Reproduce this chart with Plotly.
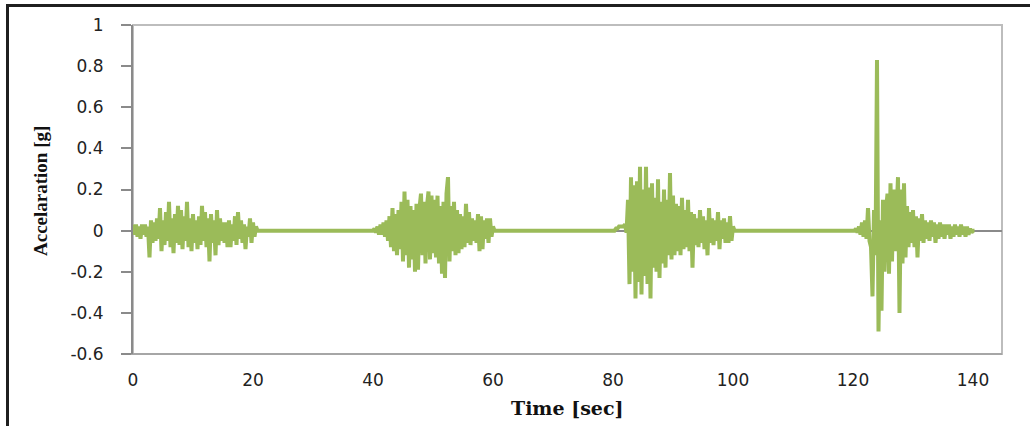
import numpy as np
import plotly.graph_objects as go

# ---------------- data ----------------
DT = 0.25  # sampling step [s]

burst1_start = 0.0
burst1_acc = [
    0.03, -0.02, 0.03, -0.03, 0.02, -0.04, 0.03, -0.02,
    0.03, -0.03, 0.02, -0.13, 0.05, -0.06, 0.04, -0.05,
    0.06, -0.04, 0.11, -0.10, 0.05, -0.07, 0.09, -0.05,
    0.14, -0.08, 0.06, -0.11, 0.08, -0.06, 0.12, -0.07,
    0.10, -0.09, 0.07, -0.05, 0.14, -0.08, 0.06, -0.10,
    0.08, -0.06, 0.05, -0.09, 0.07, -0.07, 0.12, -0.05,
    0.09, -0.08, 0.06, -0.15, 0.08, -0.06, 0.05, -0.12,
    0.10, -0.07, 0.06, -0.05, 0.04, -0.06, 0.04, -0.08,
    0.05, -0.08, 0.03, -0.05, 0.07, -0.07, 0.09, -0.04,
    0.05, -0.06, 0.03, -0.09, 0.02, -0.03, 0.06, -0.06,
    0.04, -0.03, 0.02, 0.00,
]

burst2_start = 40.0
burst2_acc = [
    0.00, 0.01, -0.01, 0.02, -0.02, 0.03, -0.02, 0.04,
    -0.03, 0.05, -0.05, 0.07, -0.08, 0.11, -0.10, 0.08,
    -0.12, 0.10, -0.09, 0.14, -0.15, 0.19, -0.12, 0.15,
    -0.18, 0.12, -0.14, 0.10, -0.20, 0.13, -0.19, 0.11,
    0.18, -0.12, 0.14, -0.16, 0.12, 0.19, -0.14, 0.17,
    -0.11, 0.15, -0.13, 0.17, -0.16, 0.12, -0.21, 0.14,
    -0.23, 0.18, 0.26, -0.15, 0.12, -0.10, 0.14, -0.12,
    0.10, -0.11, 0.08, -0.09, 0.07, -0.08, 0.13, -0.06,
    0.09, -0.07, 0.06, -0.05, 0.05, -0.06, 0.08, -0.10,
    0.07, -0.09, 0.05, -0.04, 0.06, -0.06, 0.06, -0.03,
    0.02, 0.00,
]

burst3_start = 80.0
burst3_acc = [
    0.00, 0.00, 0.01, 0.01, 0.02, 0.02, 0.02, 0.02,
    0.03, -0.01, 0.15, -0.26, 0.26, -0.20, 0.22, -0.33,
    0.24, -0.25, 0.31, -0.31, 0.20, -0.22, 0.31, -0.26,
    0.21, -0.33, 0.23, -0.18, 0.16, -0.20, 0.25, -0.23,
    0.14, -0.16, 0.20, -0.18, 0.15, -0.12, 0.28, -0.14,
    0.17, -0.12, 0.13, -0.10, 0.12, -0.12, 0.16, -0.09,
    0.10, -0.08, 0.15, -0.10, 0.09, -0.18, 0.08, -0.07,
    0.06, -0.08, 0.10, -0.06, 0.07, -0.09, 0.05, -0.12,
    0.11, -0.06, 0.06, -0.07, 0.05, -0.05, 0.09, -0.09,
    0.05, -0.04, 0.06, -0.06, 0.04, -0.06, 0.07, -0.05,
    0.02, 0.00,
]

burst4_start = 120.0
burst4_acc = [
    0.00, 0.00, 0.01, -0.01, 0.02, -0.02, 0.04, -0.03,
    0.05, -0.04, 0.11, -0.05, -0.08, -0.32, 0.10, -0.12,
    0.83, -0.49, 0.05, -0.39, 0.15, -0.20, 0.10, 0.18,
    -0.21, 0.23, -0.15, 0.20, -0.10, 0.15, 0.26, -0.40,
    0.20, -0.16, 0.23, -0.13, 0.12, -0.08, 0.09, -0.06,
    0.10, -0.08, 0.07, -0.13, 0.06, -0.05, 0.08, -0.06,
    0.05, -0.04, 0.04, -0.05, 0.05, -0.03, 0.04, -0.06,
    0.03, -0.04, 0.04, -0.03, 0.03, -0.04, 0.03, -0.02,
    0.03, -0.04, 0.02, -0.03, 0.03, -0.02, 0.02, -0.03,
    0.03, -0.02, 0.02, -0.03, 0.02, -0.02, 0.01, -0.01,
    0.00, 0.00,
]

y_tick_vals = [1, 0.8, 0.6, 0.4, 0.2, 0, -0.2, -0.4, -0.6]
y_tick_text = ["1", "0.8", "0.6", "0.4", "0.2", "0", "-0.2", "-0.4", "-0.6"]
x_tick_vals = [0, 20, 40, 60, 80, 100, 120, 140]
x_tick_text = ["0", "20", "40", "60", "80", "100", "120", "140"]

# ---------------- build series ----------------
bursts = [
    (burst1_start, burst1_acc),
    (burst2_start, burst2_acc),
    (burst3_start, burst3_acc),
    (burst4_start, burst4_acc),
]
t_all, a_all = [], []
for start, acc in bursts:
    t_all.extend((start + DT * np.arange(len(acc))).tolist())
    a_all.extend(acc)

fig = go.Figure()
fig.add_trace(go.Scatter(
    x=t_all, y=a_all, mode="lines",
    line=dict(color="#9BBB59", width=4),
    showlegend=False, hoverinfo="skip",
))

# plot-area geometry in pixels
W, H = 1030, 426
L, R, T, B = 133, 1002, 25, 354
pw, ph = R - L, B - T

def px(x):
    return (x - L) / pw

def py(y):
    return (B - y) / ph

tick_font = dict(family="DejaVu Sans", size=17, color="#222222")

fig.update_layout(
    width=W, height=H,
    margin=dict(l=L, r=W - R, t=T, b=H - B),
    paper_bgcolor="white", plot_bgcolor="white",
    xaxis=dict(
        range=[0, (R - L) / 6.0],
        tickvals=x_tick_vals, ticktext=x_tick_text,
        showgrid=False, zeroline=False, showline=False,
        ticks="", tickfont=tick_font, ticklabelstandoff=14,
    ),
    yaxis=dict(
        range=[-0.6, 1.0],
        tickvals=y_tick_vals, ticktext=y_tick_text,
        showgrid=False,
        zeroline=True, zerolinecolor="#8a8a8a", zerolinewidth=2,
        showline=True, linecolor="#8a8a8a", linewidth=2,
        ticks="outside", ticklen=10, tickcolor="#8a8a8a", tickwidth=2,
        tickfont=tick_font, ticklabelstandoff=14,
    ),
    shapes=[
        # plot-area border (light grey)
        dict(type="rect", xref="paper", yref="paper", x0=0, x1=1, y0=0, y1=1,
             line=dict(color="#bdbdbd", width=2), layer="below"),
        # bottom border slightly darker
        dict(type="line", xref="paper", yref="paper", x0=px(L - 10), x1=1, y0=0, y1=0,
             line=dict(color="#a6a6a6", width=2), layer="below"),
        # outer black frame (top + left)
        dict(type="path", xref="paper", yref="paper",
             path=f"M {px(7.5)},{py(H + 5)} L {px(7.5)},{py(5.5)} L {px(W + 5)},{py(5.5)}",
             line=dict(color="#1f1f1f", width=3)),
    ],
    annotations=[
        dict(text="<b>Accelaration [g]</b>", textangle=-90,
             xref="paper", yref="paper", x=px(40), y=py(191),
             xanchor="center", yanchor="middle", showarrow=False,
             font=dict(family="Liberation Serif", size=19, color="#111111")),
        dict(text="<b>Time [sec]</b>",
             xref="paper", yref="paper", x=px(567), y=py(408),
             xanchor="center", yanchor="middle", showarrow=False,
             font=dict(family="DejaVu Serif", size=19, color="#111111")),
    ],
)

fig.write_html("out.html", config={"displayModeBar": False})
